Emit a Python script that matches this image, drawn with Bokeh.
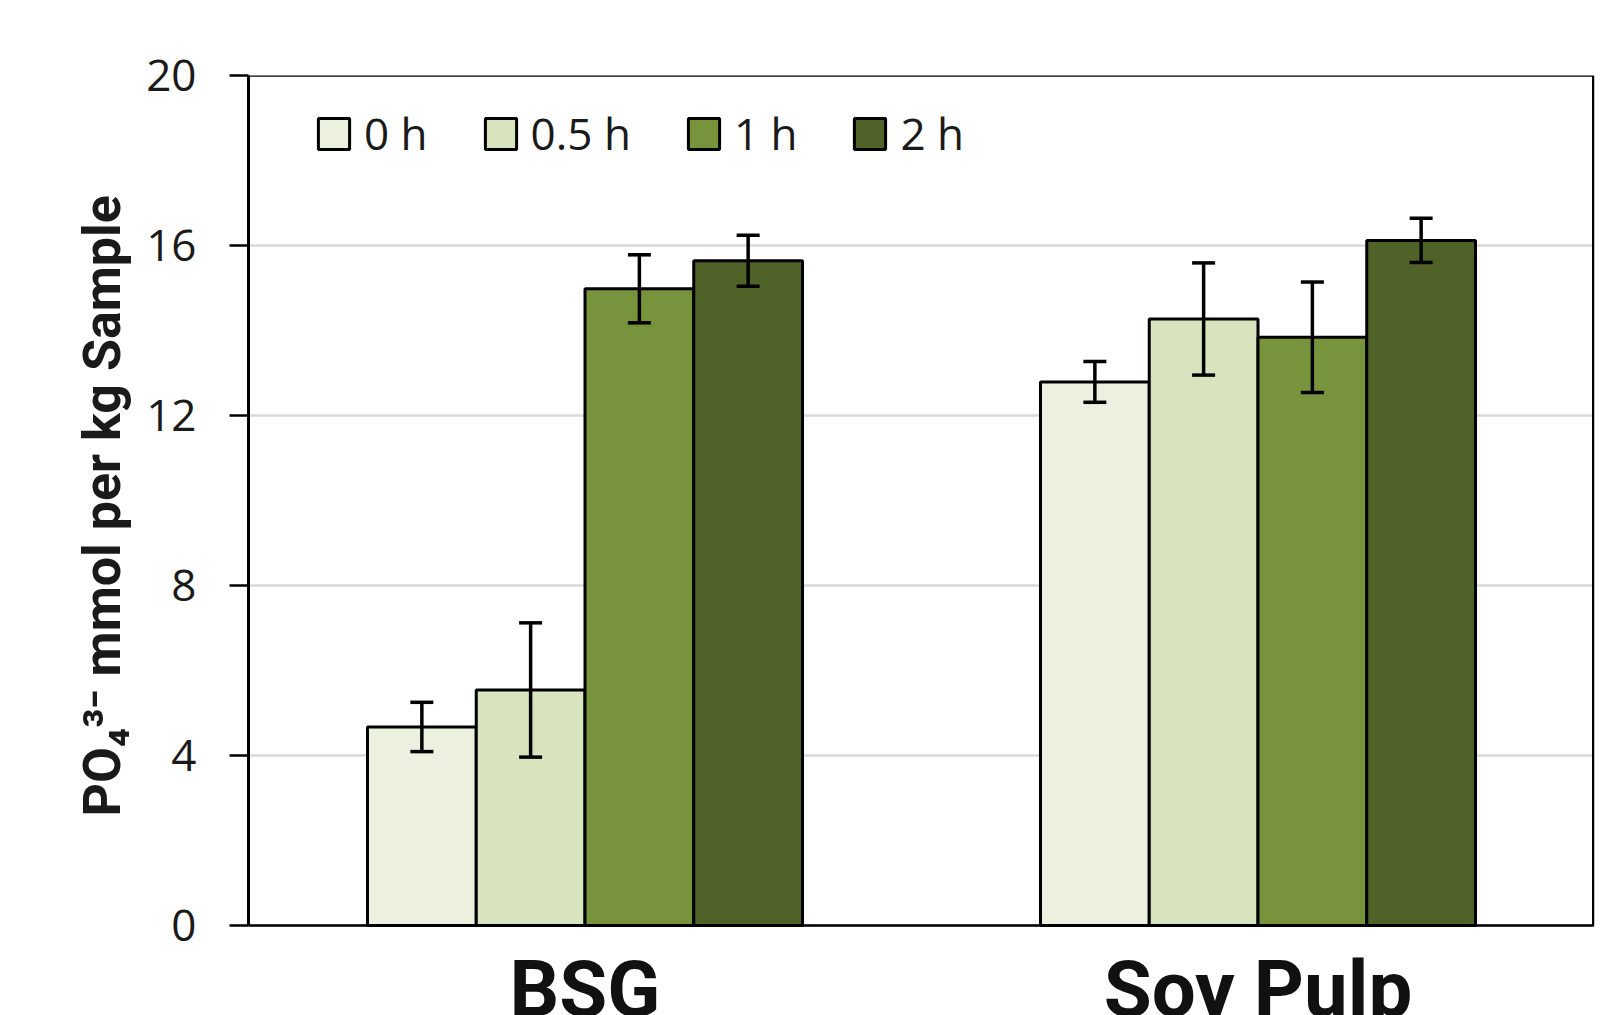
from bokeh.plotting import figure
from bokeh.models import (ColumnDataSource, FactorRange, Range1d, FixedTicker, Whisker, TeeHead,
                          BoxAnnotation, Title)
from bokeh.transform import dodge
from bokeh.core.properties import value
from bokeh.embed import file_html
from bokeh.resources import INLINE

# ---- data ----
categories = ["BSG", "Soy Pulp"]
hours = ["0 h", "0.5 h", "1 h", "2 h"]
mean_0h = [4.67, 12.79]
mean_05h = [5.54, 14.27]
mean_1h = [14.98, 13.84]
mean_2h = [15.64, 16.12]
err_0h = [0.58, 0.48]
err_05h = [1.58, 1.32]
err_1h = [0.80, 1.30]
err_2h = [0.60, 0.52]
y_ticks = [0, 4, 8, 12, 16, 20]

colors = ["#EBF1DE", "#D7E4BD", "#77933C", "#4F6228"]
means = [mean_0h, mean_05h, mean_1h, mean_2h]
errs = [err_0h, err_05h, err_1h, err_2h]

data = {"cat": categories}
for i in range(4):
    data[f"m{i}"] = means[i]
    data[f"up{i}"] = [m + e for m, e in zip(means[i], errs[i])]
    data[f"lo{i}"] = [m - e for m, e in zip(means[i], errs[i])]
src = ColumnDataSource(data)

# the plotting area runs down to the bottom edge of the page, so the big
# category names below the value axis are cut by the page edge as in the original
y_lo = -2.12
p = figure(width=1620, height=1015, x_range=FactorRange(*categories), y_range=Range1d(y_lo, y_ticks[-1]),
           output_backend="svg", toolbar_location=None,
           min_border_left=248, min_border_right=26, min_border_top=75, min_border_bottom=0)
p.background_fill_color = "white"
p.border_fill_color = "white"
p.outline_line_color = None

# grid
p.xgrid.visible = False
p.ygrid.ticker = FixedTicker(ticks=y_ticks)
p.ygrid.grid_line_color = "#D9D9D9"
p.ygrid.grid_line_width = 2.5

bar_w = 0.1616
offsets = [(i - 1.5) * bar_w for i in range(4)]

for i in range(4):
    p.vbar(x=dodge("cat", offsets[i], range=p.x_range), top=f"m{i}", width=bar_w, source=src,
           fill_color=colors[i], line_color="black", line_width=3, legend_label=hours[i])

for i in range(4):
    w = Whisker(source=src, base=dodge("cat", offsets[i], range=p.x_range), upper=f"up{i}", lower=f"lo{i}",
                line_color="black", line_width=3.5, level="overlay",
                upper_head=TeeHead(size=23, line_width=3.5, line_color="black"),
                lower_head=TeeHead(size=23, line_width=3.5, line_color="black"))
    p.add_layout(w)

# plot-area border from 0 to 20
p.add_layout(BoxAnnotation(bottom=y_ticks[0], top=y_ticks[-1], right=len(categories) - 0.0019,
                           fill_alpha=0, line_color="black", line_alpha=1.0, line_dash="solid",
                           line_width=2.5, level="overlay"))

# category names under the bars
p.text(x="cat", y=0, text="cat", source=src, y_offset=64, text_align="center", text_baseline="alphabetic",
       text_font=value("Roboto"), text_font_style="bold", text_font_size="78px", text_color="#111111")

# y axis
ya = p.yaxis[0]
ya.ticker = FixedTicker(ticks=y_ticks)
ya.bounds = (y_ticks[0], y_ticks[-1])
ya.major_tick_out = 19
ya.major_tick_in = 0
ya.minor_tick_out = 0
ya.minor_tick_in = 0
ya.axis_line_width = 3
ya.axis_line_color = "black"
ya.major_tick_line_width = 2.5
ya.major_tick_line_color = "black"
ya.major_label_standoff = 33
ya.major_label_text_font = "Open Sans"
ya.major_label_text_font_size = "44px"
ya.major_label_text_color = "#1a1a1a"

p.xaxis.visible = False

ylab = Title(text="PO\u2084\u00b3\u207b mmol per kg Sample", align="left", offset=199,
             text_font="Roboto", text_font_style="bold", text_font_size="52px",
             text_color="#1a1a1a", standoff=21)
p.add_layout(ylab, "left")

# legend
lg = p.legend[0]
lg.orientation = "horizontal"
lg.location = (66, 852)
lg.padding = 0
lg.margin = 0
lg.spacing = 53
lg.label_standoff = 11
lg.glyph_width = 39
lg.glyph_height = 39
lg.border_line_color = None
lg.background_fill_alpha = 0
lg.label_text_font = "Open Sans"
lg.label_text_font_size = "44px"
lg.label_text_color = "#1a1a1a"

open("out.html", "w").write(file_html(p, INLINE))
